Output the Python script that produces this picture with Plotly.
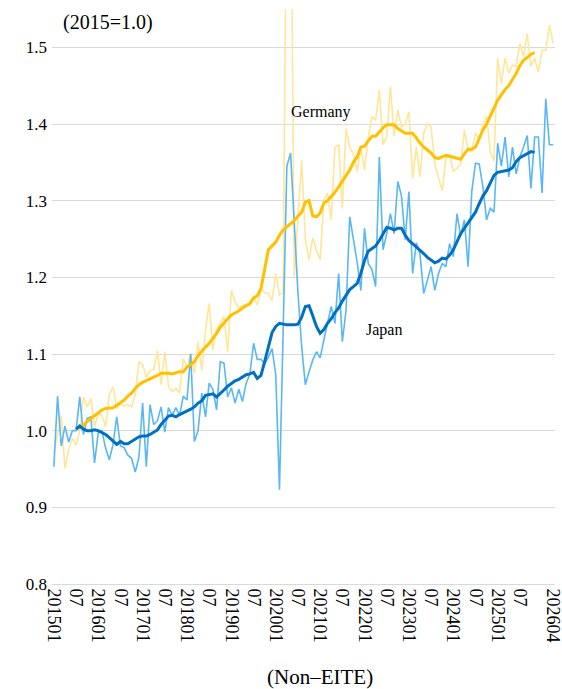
import plotly.graph_objects as go

# Monthly categories 2015-01 .. 2026-04
months = [f"{y}{m:02d}" for y in range(2015, 2027) for m in range(1, 13)][:136]

# Monthly index, Germany (2015=1.0)
germany = [
    0.970, 0.995, 1.020, 0.951, 0.975, 0.990, 0.981, 1.000, 1.044, 1.031,
    1.042, 1.005, 1.023, 1.020, 1.005, 1.047, 1.057, 1.029, 1.035, 1.032,
    1.034, 1.031, 1.047, 1.090, 1.086, 1.070, 1.078, 1.080, 1.104, 1.060,
    1.103, 1.057, 1.051, 1.055, 1.049, 1.094, 1.082, 1.101, 1.075, 1.116,
    1.079, 1.131, 1.166, 1.105, 1.133, 1.140, 1.149, 1.103, 1.183, 1.168,
    1.160, 1.163, 1.165, 1.163, 1.175, 1.164, 1.185, 1.180, 1.179, 1.170,
    1.205, 1.177, 1.180, 1.800, 1.800, 1.200, 1.270, 1.353, 1.249, 1.223,
    1.251, 1.235, 1.223, 1.300, 1.310, 1.275, 1.370, 1.373, 1.290, 1.394,
    1.370, 1.360, 1.338, 1.370, 1.340, 1.383, 1.410, 1.405, 1.444, 1.373,
    1.383, 1.449, 1.384, 1.418, 1.396, 1.400, 1.416, 1.329, 1.370, 1.331,
    1.388, 1.401, 1.396, 1.347, 1.330, 1.313, 1.355, 1.360, 1.338, 1.342,
    1.348, 1.392, 1.366, 1.364, 1.388, 1.380, 1.400, 1.410, 1.364, 1.351,
    1.486, 1.453, 1.486, 1.466, 1.477, 1.475, 1.505, 1.488, 1.518, 1.475,
    1.486, 1.468, 1.496, 1.496, 1.529, 1.505,
]

# Monthly index, Japan (2015=1.0)
japan = [
    0.953, 1.045, 0.980, 1.006, 0.985, 1.000, 1.000, 1.044, 0.995, 1.016,
    1.018, 0.958, 0.997, 1.000, 0.977, 0.962, 0.982, 1.018, 0.980, 0.978,
    0.968, 0.964, 0.946, 0.965, 1.036, 0.953, 1.034, 1.008, 1.013, 1.031,
    0.998, 1.030, 1.020, 1.030, 1.020, 1.045, 1.040, 1.100, 0.986, 1.000,
    1.049, 1.018, 1.062, 1.054, 1.027, 1.090, 1.088, 1.044, 1.056, 1.036,
    1.054, 1.038, 1.062, 1.074, 1.114, 1.093, 1.093, 1.087, 1.096, 1.107,
    1.073, 0.923, 1.130, 1.345, 1.362, 1.270, 1.180, 1.110, 1.060, 1.077,
    1.092, 1.103, 1.095, 1.118, 1.140, 1.162, 1.140, 1.205, 1.116, 1.157,
    1.279, 1.249, 1.220, 1.183, 1.264, 1.218, 1.210, 1.188, 1.357, 1.236,
    1.257, 1.283, 1.257, 1.325, 1.306, 1.249, 1.312, 1.205, 1.245, 1.230,
    1.179, 1.196, 1.214, 1.183, 1.205, 1.218, 1.214, 1.244, 1.227, 1.283,
    1.254, 1.275, 1.214, 1.312, 1.349, 1.348, 1.318, 1.275, 1.290, 1.285,
    1.375, 1.345, 1.383, 1.331, 1.370, 1.335, 1.357, 1.370, 1.385, 1.316,
    1.383, 1.383, 1.310, 1.433, 1.373, 1.373,
]

# 12-month moving averages, 2015-07 .. 2025-11
ma_months = months[6:131]

germany_ma = [
    1.002, 1.005, 1.007, 1.012, 1.016, 1.020, 1.023, 1.027, 1.029, 1.030,
    1.030, 1.033, 1.036, 1.040, 1.045, 1.049, 1.055, 1.060, 1.063, 1.065,
    1.067, 1.070, 1.072, 1.075, 1.075, 1.075, 1.074, 1.076, 1.077, 1.077,
    1.083, 1.086, 1.090, 1.098, 1.104, 1.109, 1.114, 1.120, 1.127, 1.135,
    1.141, 1.146, 1.151, 1.153, 1.156, 1.160, 1.163, 1.166, 1.173, 1.176,
    1.185, 1.210, 1.236, 1.241, 1.246, 1.255, 1.262, 1.266, 1.270, 1.274,
    1.280, 1.285, 1.298, 1.300, 1.280, 1.279, 1.284, 1.297, 1.300, 1.305,
    1.311, 1.318, 1.325, 1.333, 1.340, 1.350, 1.357, 1.370, 1.371, 1.378,
    1.384, 1.384, 1.390, 1.395, 1.399, 1.399, 1.399, 1.394, 1.391, 1.388,
    1.388, 1.388, 1.382, 1.375, 1.370, 1.366, 1.362, 1.356, 1.355, 1.357,
    1.359, 1.358, 1.357, 1.355, 1.354, 1.361, 1.367, 1.367, 1.370, 1.381,
    1.392, 1.400, 1.410, 1.421, 1.431, 1.438, 1.445, 1.450, 1.458, 1.466,
    1.476, 1.483, 1.487, 1.491, 1.493,
]

japan_ma = [
    1.002, 1.006, 1.002, 1.000, 1.000, 1.001, 1.000, 0.998, 0.995, 0.991,
    0.986, 0.982, 0.986, 0.983, 0.983, 0.986, 0.989, 0.992, 0.993, 0.993,
    0.995, 0.998, 1.001, 1.008, 1.014, 1.019, 1.020, 1.018, 1.021, 1.023,
    1.026, 1.028, 1.031, 1.036, 1.039, 1.046, 1.047, 1.048, 1.044, 1.048,
    1.053, 1.058, 1.062, 1.065, 1.067, 1.070, 1.073, 1.074, 1.076, 1.068,
    1.072, 1.090, 1.110, 1.128, 1.136, 1.140, 1.139, 1.138, 1.138, 1.138,
    1.139, 1.148, 1.162, 1.163, 1.150, 1.136, 1.127, 1.132, 1.140, 1.146,
    1.154, 1.160, 1.169, 1.176, 1.184, 1.188, 1.192, 1.205, 1.222, 1.234,
    1.238, 1.241, 1.248, 1.256, 1.265, 1.264, 1.262, 1.264, 1.264, 1.255,
    1.248, 1.244, 1.240, 1.236, 1.231, 1.226, 1.222, 1.219, 1.221, 1.225,
    1.224, 1.229, 1.236, 1.246, 1.257, 1.264, 1.271, 1.277, 1.285, 1.296,
    1.306, 1.313, 1.322, 1.333, 1.337, 1.338, 1.339, 1.340, 1.343, 1.351,
    1.356, 1.359, 1.362, 1.364, 1.363,
]

# Axis ticks
tick_months = months[0:127:6] + ["202604"]
tick_text = [
    "201501", "07", "201601", "07", "201701", "07", "201801", "07",
    "201901", "07", "202001", "07", "202101", "07", "202201", "07",
    "202301", "07", "202401", "07", "202501", "07", "202604",
]
y_ticks = [0.8, 0.9, 1.0, 1.1, 1.2, 1.3, 1.4, 1.5]

SERIF = "Liberation Serif, Times New Roman, serif"

fig = go.Figure()
fig.add_trace(go.Scatter(x=months, y=germany, mode="lines",
                         line=dict(color="#FFE699", width=1.6), name="Germany"))
fig.add_trace(go.Scatter(x=months, y=japan, mode="lines",
                         line=dict(color="#5AB7F5", width=1.6), name="Japan"))
fig.add_trace(go.Scatter(x=ma_months, y=germany_ma, mode="lines",
                         line=dict(color="#FFC000", width=3), name="Germany MA"))
fig.add_trace(go.Scatter(x=ma_months, y=japan_ma, mode="lines",
                         line=dict(color="#0070C0", width=3), name="Japan MA"))

fig.update_layout(
    width=562, height=689,
    margin=dict(l=52, r=7, t=9, b=105),
    paper_bgcolor="white", plot_bgcolor="white",
    showlegend=False,
    font=dict(family=SERIF, size=16, color="#000000"),
    xaxis=dict(
        type="category", categoryorder="array", categoryarray=months,
        range=[-0.5, 135.5], automargin=False,
        tickmode="array", tickvals=tick_months, ticktext=tick_text,
        tickangle=90, tickfont=dict(family=SERIF, size=18, color="#000000"),
        showgrid=False, showline=True, linecolor="#D9D9D9", linewidth=1,
        ticks="", zeroline=False,
    ),
    yaxis=dict(
        range=[0.8, 1.55], automargin=False,
        tickmode="array", tickvals=y_ticks,
        ticktext=[f"{v:.1f}" for v in y_ticks],
        tickfont=dict(family=SERIF, size=17, color="#000000"),
        showgrid=True, gridcolor="#D9D9D9", gridwidth=1,
        showline=False, zeroline=False, ticks="", ticklabelstandoff=4,
    ),
    annotations=[
        dict(text="(2015=1.0)", xref="paper", yref="paper", x=0.018, y=0.976,
             xanchor="left", yanchor="middle", showarrow=False,
             font=dict(family=SERIF, size=20, color="#000000")),
        dict(text="Germany", xref="x", yref="y", x=72.3, y=1.416,
             xanchor="center", yanchor="middle", showarrow=False,
             font=dict(family=SERIF, size=16, color="#000000")),
        dict(text="Japan", xref="x", yref="y", x=89.2, y=1.131,
             xanchor="center", yanchor="middle", showarrow=False,
             font=dict(family=SERIF, size=16, color="#000000")),
        dict(text="(Non\u2013EITE)", xref="paper", yref="paper", x=0.532, y=-0.162,
             xanchor="center", yanchor="middle", showarrow=False,
             font=dict(family=SERIF, size=21, color="#000000")),
    ],
)

fig.write_html("out.html")
